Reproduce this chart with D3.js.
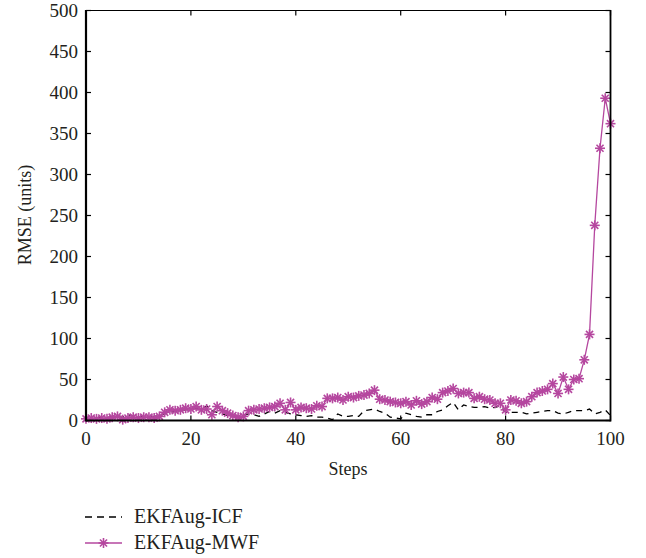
<!DOCTYPE html>
<html>
<head>
<meta charset="utf-8">
<script src="https://cdn.jsdelivr.net/npm/d3@7"></script>
<style>
  html, body { margin: 0; padding: 0; background: #fff; }
  svg { display: block; }
  text { font-family: "Liberation Serif", "DejaVu Serif", serif; fill: #231f20; }
</style>
</head>
<body>
<svg id="chart" width="646" height="558"></svg>
<script>
// ---- data ----
const steps = d3.range(0, 101);
const icf = [3,2,3,4,3,5,6,4,7,5,4,5,4,5,6,8,10,11,12,13,14,15,13,18,12,10,8,6,5,5,
             6,8,7,5,8,11,9,12,10,8,7,6,5,6,4,4,3,1,8,5,5,6,5,12,13,14,11,9,4,3,
             2,9,7,5,4,7,7,11,13,18,22,13,19,17,16,16,17,15,16,18,10,10,10,10,8,9,10,11,12,12,
             9,8,10,12,12,12,14,8,10,13,6];
const mwf = [2,3,2,3,2,4,5,1,3,4,3,4,4,3,5,10,13,12,13,15,14,17,13,14,7,17,12,9,6,4,
             5,12,13,14,15,16,17,21,13,22,13,16,15,14,18,17,27,27,28,25,29,28,30,31,33,37,26,25,23,22,
             21,23,19,24,20,23,28,26,34,36,39,33,34,34,27,29,26,25,21,21,13,25,24,21,23,29,34,36,38,45,
             33,53,38,50,51,74,105,238,332,393,362];
const xTicks = [0, 20, 40, 60, 80, 100];
const yTicks = [0, 50, 100, 150, 200, 250, 300, 350, 400, 450, 500];
const seriesNames = ["EKFAug-ICF", "EKFAug-MWF"];

// ---- layout ----
const svg = d3.select("#chart");
const L = 86, R = 610.5, T = 10.5, B = 420.5;
const x = d3.scaleLinear().domain([0, 100]).range([L, R]);
const y = d3.scaleLinear().domain([0, 500]).range([B, T]);
const magenta = "#b5479f";
const tickLen = 5;

// series
const line = d3.line().x((d, i) => x(steps[i])).y(d => y(d));
svg.append("path").datum(icf)
  .attr("d", line).attr("fill", "none").attr("stroke", "#000")
  .attr("stroke-width", 1.3).attr("stroke-dasharray", "6,5");

svg.append("path").datum(mwf)
  .attr("d", line).attr("fill", "none").attr("stroke", magenta)
  .attr("stroke-width", 1.3);

function star(g, cx, cy, r) {
  const s = g.append("g").attr("transform", `translate(${cx},${cy})`);
  for (let k = 0; k < 4; k++) {
    const a = k * Math.PI / 4;
    s.append("line")
      .attr("x1", -r * Math.cos(a)).attr("y1", -r * Math.sin(a))
      .attr("x2", r * Math.cos(a)).attr("y2", r * Math.sin(a))
      .attr("stroke", magenta).attr("stroke-width", 1.6);
  }
}
const mk = svg.append("g");
mwf.forEach((v, i) => star(mk, x(steps[i]), y(v), 5));

// frame
const ax = svg.append("g");
ax.append("line").attr("x1", L).attr("x2", R).attr("y1", T).attr("y2", T).attr("stroke", "#000").attr("stroke-width", 1.2);
ax.append("line").attr("x1", L).attr("x2", R).attr("y1", B).attr("y2", B).attr("stroke", "#000").attr("stroke-width", 2.2);
ax.append("line").attr("x1", L).attr("x2", L).attr("y1", T - 0.5).attr("y2", B + 1).attr("stroke", "#000").attr("stroke-width", 2.2);
ax.append("line").attr("x1", R).attr("x2", R).attr("y1", T - 0.5).attr("y2", B + 1).attr("stroke", "#000").attr("stroke-width", 1.8);

// ticks
xTicks.forEach(t => {
  ax.append("line").attr("x1", x(t)).attr("x2", x(t)).attr("y1", B).attr("y2", B - tickLen).attr("stroke", "#000").attr("stroke-width", 1.2);
  ax.append("line").attr("x1", x(t)).attr("x2", x(t)).attr("y1", T).attr("y2", T + tickLen).attr("stroke", "#000").attr("stroke-width", 1.2);
  ax.append("text").attr("x", x(t)).attr("y", 445).attr("text-anchor", "middle")
    .attr("font-size", 19).text(t);
});
yTicks.forEach(t => {
  ax.append("line").attr("x1", L).attr("x2", L + tickLen).attr("y1", y(t)).attr("y2", y(t)).attr("stroke", "#000").attr("stroke-width", 1.2);
  ax.append("line").attr("x1", R).attr("x2", R - tickLen).attr("y1", y(t)).attr("y2", y(t)).attr("stroke", "#000").attr("stroke-width", 1.2);
  ax.append("text").attr("x", 78).attr("y", y(t) + 6).attr("text-anchor", "end")
    .attr("font-size", 19).text(t);
});

// axis titles
svg.append("text").attr("x", 348).attr("y", 475).attr("text-anchor", "middle")
  .attr("font-size", 18).text("Steps");
svg.append("text").attr("transform", "translate(31,215) rotate(-90)")
  .attr("text-anchor", "middle").attr("font-size", 18).text("RMSE (units)");

// legend
const lg = svg.append("g");
lg.append("line").attr("x1", 85).attr("x2", 122).attr("y1", 517).attr("y2", 517)
  .attr("stroke", "#000").attr("stroke-width", 1.3).attr("stroke-dasharray", "7,5");
lg.append("text").attr("x", 134).attr("y", 523).attr("font-size", 20).text(seriesNames[0]);
lg.append("line").attr("x1", 85).attr("x2", 122).attr("y1", 543).attr("y2", 543)
  .attr("stroke", magenta).attr("stroke-width", 1.3);
star(lg, 103.5, 543, 5);
lg.append("text").attr("x", 134).attr("y", 549).attr("font-size", 20).text(seriesNames[1]);
</script>
</body>
</html>
